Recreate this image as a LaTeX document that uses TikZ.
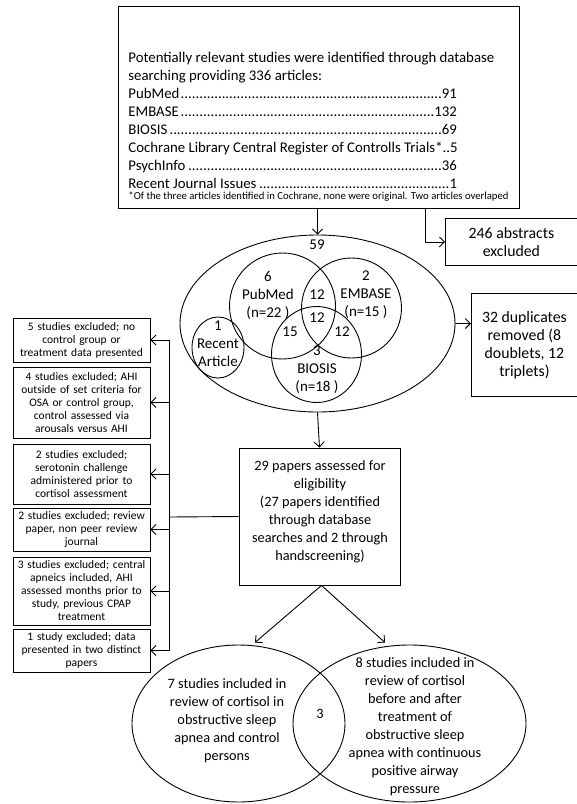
\documentclass[tikz,border=0pt]{standalone}
\usepackage{fontspec}
\setmainfont{Carlito}
\usetikzlibrary{arrows.meta,shapes.geometric}
\newcommand\dotline[2]{\hbox to 329pt{#1\leaders\hbox{.}\hfill #2}}
\begin{document}
\begin{tikzpicture}[x=1pt,y=-1pt,
  line width=0.9pt,
  arr/.style={-{Straight Barb[length=5pt,width=10pt]}},
  txt/.style={align=center, inner sep=0pt},
  bigf/.style={font=\fontsize{14.3}{18}\selectfont},
  sidef/.style={font=\fontsize{15.8}{18}\selectfont},
  vennf/.style={font=\fontsize{15}{18}\selectfont},
  smlf/.style={font=\fontsize{11.5}{13}\selectfont},
  lbox/.style={draw, smlf, txt, minimum width=137, text width=132}]
\useasboundingbox (0,0) rectangle (577,804);

% top box
\node[draw, minimum width=401, minimum height=202, inner sep=0pt] (top) at (318.5,107) {};
\node[txt, font=\fontsize{14.8}{18}\selectfont, align=left, anchor=west] (toptxt) at (128,120) {Potentially relevant studies were identified through database\\
searching providing 336 articles:\\
\dotline{PubMed}{91}\\
\dotline{EMBASE}{132}\\
\dotline{BIOSIS}{69}\\
Cochrane Library Central Register of Controlls Trials*..5\\
\dotline{PsychInfo}{36}\\
\dotline{Recent Journal Issues}{1}};
\node[txt, font=\fontsize{10.7}{12}\selectfont, anchor=west] (foot) at (128,197) {*Of the three articles identified in Cochrane, none were original. Two articles overlaped};

% 246 abstracts
\node[sidef, txt, minimum width=132, minimum height=47, anchor=north west] (abs) at (445,218) {246 abstracts\\excluded};
\draw (abs.north east) -- (abs.north west) -- (abs.south west) -- (abs.south east);

% big ellipse and venn
\node[ellipse, draw, minimum width=275, minimum height=177, inner sep=0pt] (ell) at (317.5,323.5) {};
\node[circle, draw, minimum size=106, inner sep=0pt] (pm) at (282.5,306) {};
\node[circle, draw, minimum size=100, inner sep=0pt] (em) at (351.5,308) {};
\node[ellipse, draw, minimum width=90, minimum height=96, inner sep=0pt] (bi) at (316.5,354.5) {};
\node[ellipse, draw, minimum width=52, minimum height=61, inner sep=0pt] (ra) at (218,347.5) {};

\node[vennf, txt] (n59) at (317,245) {59};
\node[vennf, txt] (pmt) at (268,295) {6\\PubMed\\(n=22 )};
\node[vennf, txt] (emt) at (366,295) {2\\EMBASE\\(n=15 )};
\node[vennf, txt] (bit) at (317,370) {3\\BIOSIS\\(n=18 )};
\node[vennf, txt] (rat) at (218,344) {1\\Recent\\Article};
\node[vennf, txt] (pe) at (317,295) {12};
\node[vennf, txt] (peb) at (317,318) {12};
\node[vennf, txt] (pb) at (290,332) {15};
\node[vennf, txt] (eb) at (342,332) {12};

% 32 duplicates
\node[sidef, txt, minimum width=106, minimum height=103, anchor=north west] (dup) at (471,293) {32 duplicates\\removed (8\\doublets, 12\\triplets)};
\draw (dup.north east) -- (dup.north west) -- (dup.south west) -- (dup.south east);

% eligibility
\node[draw, minimum width=161, minimum height=137, inner sep=0pt] (elig) at (319.5,516.5) {};
\node[bigf, txt] (eligt) at (320,512) {29 papers assessed for\\eligibility\\(27 papers identified\\through database\\searches and 2 through\\handscreening)};

% left exclusion boxes
\node[lbox, minimum height=44] (e1) at (81.5,340) {5 studies excluded; no\\control group or\\treatment data presented};
\node[lbox, minimum height=71] (e2) at (81.5,402.5) {4 studies excluded; AHI\\outside of set criteria for\\OSA or control group,\\control assessed via\\arousals versus AHI};
\node[lbox, minimum height=60] (e3) at (81.5,474) {2 studies excluded;\\serotonin challenge\\administered prior to\\cortisol assessment};
\node[lbox, minimum height=43] (e4) at (81.5,529.5) {2 studies excluded; review\\paper, non peer review\\journal};
\node[lbox, minimum height=68] (e5) at (81.5,591) {3 studies excluded; central\\apneics included, AHI\\assessed months prior to\\study, previous CPAP\\treatment};
\node[lbox, minimum height=43] (e6) at (81.5,650.5) {1 study excluded; data\\presented in two distinct\\papers};

\coordinate (spine) at (169,517);

% bottom ellipses
\node[ellipse, draw, minimum width=213, minimum height=157, inner sep=0pt] (inc) at (238.5,723.5) {};
\node[ellipse, draw, minimum width=233, minimum height=157, inner sep=0pt] (cpap) at (409.5,723.5) {};
\node[bigf, txt] (inct) at (227,721) {7 studies included in\\review of cortisol in\\obstructive sleep\\apnea and control\\persons};
\node[bigf, txt] (cpapt) at (415,727) {8 studies included in\\review of cortisol\\before and after\\treatment of\\obstructive sleep\\apnea with continuous\\positive airway\\pressure};
\node[bigf, txt] (both) at (320,714) {3};

% connectors
\draw[arr] (top.south -| ell.north) -- (ell.north);
\draw[arr] ([xshift=106.5pt]top.south) |- (abs.west);
\draw[arr] (ell.east) -- (ell.east -| dup.west);
\draw[arr] (ell.south) -- (elig.north);
\draw (elig.west) -- (spine);
\draw (e1.east -| spine) -- (e6.east -| spine);
\foreach \b in {e1,e2,e3,e4,e5,e6}{
  \draw[arr] (\b.east -| spine) -- (\b.east);
}
\draw[arr] ([xshift=2pt]elig.south) -- ([xshift=16.5pt,yshift=2pt]inc.north);
\draw[arr] ([xshift=2pt]elig.south) -- ([xshift=-24.5pt,yshift=2pt]cpap.north);
\end{tikzpicture}
\end{document}
